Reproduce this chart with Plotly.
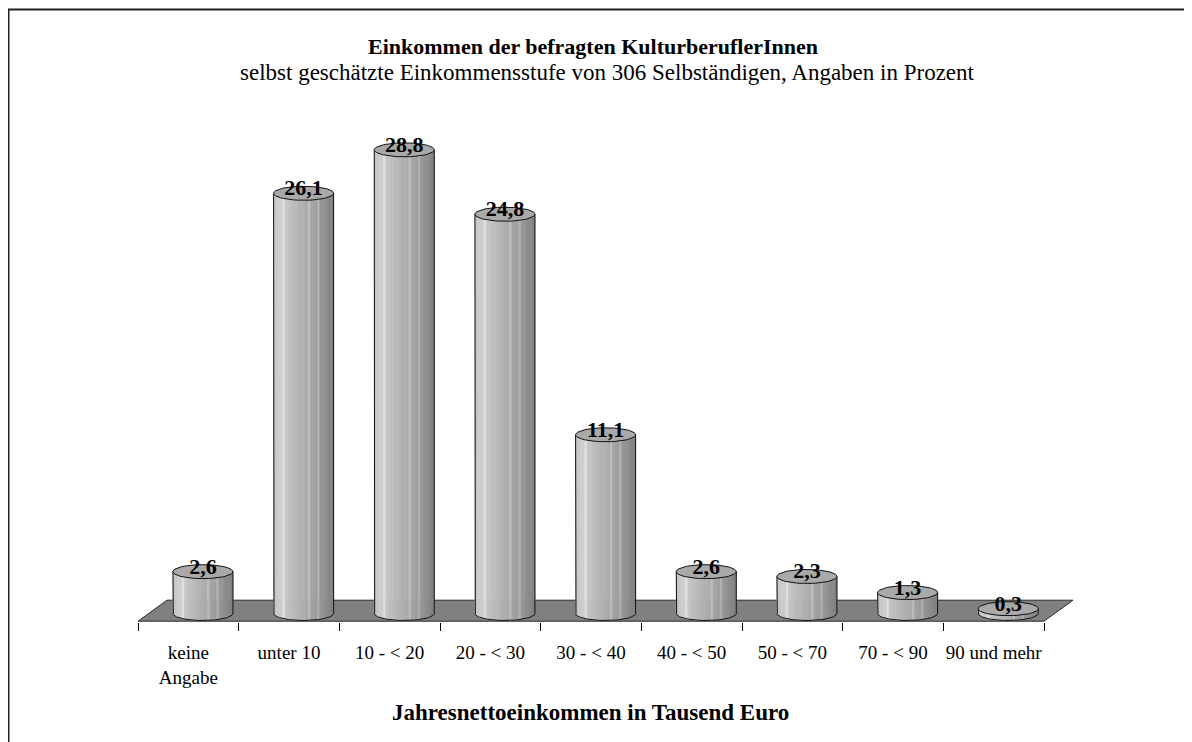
import numpy as np
import plotly.graph_objects as go

# ---------------- data ----------------
categories = ["keine<br>Angabe", "unter 10", "10 - < 20", "20 - < 30", "30 - < 40",
              "40 - < 50", "50 - < 70", "70 - < 90", "90 und mehr"]
values = [2.6, 26.1, 28.8, 24.8, 11.1, 2.6, 2.3, 1.3, 0.3]
value_labels = [f"{v:.1f}".replace(".", ",") for v in values]

title_text = "Einkommen der befragten KulturberuflerInnen"
subtitle_text = "selbst geschätzte Einkommensstufe von 306 Selbständigen, Angaben in Prozent"
xaxis_title = "Jahresnettoeinkommen in Tausend Euro"

# ---------------- layout geometry (page pixels, figure sits at an 8px page offset) ----------------
OFF = 8
W, H = 1192, 742
PLOT_LEFT, PLOT_RIGHT, PLOT_TOP, PLOT_BOTTOM = 137 - OFF, 1074 - OFF, 110 - OFF, 622 - OFF
L_PX, R_PX, T_PX, B_PX = PLOT_LEFT, W - PLOT_RIGHT, PLOT_TOP, H - PLOT_BOTTOM
plot_w = PLOT_RIGHT - PLOT_LEFT
plot_h = PLOT_BOTTOM - PLOT_TOP
PXY = 16.1                  # pixels per y unit
ZERO_PX = 613.5 - OFF       # pixel row of y=0 (cylinder base ellipse centre)
y_lo = -(PLOT_BOTTOM - ZERO_PX) / PXY
y_hi = (ZERO_PX - PLOT_TOP) / PXY

n = len(values)
depth_x = 0.288
x_lo, x_hi = -0.51, n - 0.5 + depth_x + 0.01
PXX = plot_w / (x_hi - x_lo)

depth_y = 21 / PXY
floor_front = -(PLOT_BOTTOM - 0.8 - ZERO_PX) / PXY
floor_back = floor_front + depth_y

cyl_off = 0.145
rx = 30 / PXX
ry = 7 / PXY

FONT = "Liberation Serif, Times New Roman, serif"

def px2paper_x(px):
    return (px - OFF - PLOT_LEFT) / plot_w

def px2paper_y(py):
    return (PLOT_BOTTOM - (py - OFF)) / plot_h

fig = go.Figure()

# floor
fx = [-0.5, n - 0.5, n - 0.5 + depth_x, -0.5 + depth_x, -0.5]
fy = [floor_front, floor_front, floor_back, floor_back, floor_front]
fig.add_trace(go.Scatter(x=fx, y=fy, mode="lines", fill="toself",
                         fillcolor="#808080", line=dict(color="#2a2a2a", width=1),
                         hoverinfo="skip", showlegend=False))

# cylinder bodies as vertical stripes for shading
NS = 26
edges = np.linspace(-rx, rx, NS + 1)
shade_t = [0.0, 0.12, 0.3, 0.55, 0.8, 1.0]
shade_v = [195, 208, 190, 172, 150, 128]

def ell_low(dx):
    return -ry * np.sqrt(max(0.0, 1 - (dx / rx) ** 2))

for j in range(NS):
    xa, xb = edges[j], edges[j + 1]
    tm = (j + 0.5) / NS
    g = int(np.interp(tm, shade_t, shade_v))
    if j in (4, 15, 19):
        g = min(g + 22, 225)
    col = f"rgb({g},{g},{g})"
    xs, ys = [], []
    for i, v in enumerate(values):
        c = i + cyl_off
        xs += [c + xa, c + xb, c + xb, c + xa, c + xa, None]
        ys += [v, v, ell_low(xb), ell_low(xa), v, None]
    fig.add_trace(go.Scatter(x=xs, y=ys, mode="lines", fill="toself",
                             fillcolor=col, line=dict(color=col, width=0.6),
                             hoverinfo="skip", showlegend=False))

# body outlines
theta = np.linspace(np.pi, 2 * np.pi, 40)
ox, oy = [], []
for i, v in enumerate(values):
    c = i + cyl_off
    ox += [c - rx]
    oy += [v]
    ox += list(c + rx * np.cos(theta))
    oy += list(ry * np.sin(theta))
    ox += [c + rx, None]
    oy += [v, None]
fig.add_trace(go.Scatter(x=ox, y=oy, mode="lines", line=dict(color="#111111", width=1),
                         hoverinfo="skip", showlegend=False))

# top ellipses
phi = np.linspace(0, 2 * np.pi, 60)
tx, ty = [], []
for i, v in enumerate(values):
    c = i + cyl_off
    tx += list(c + rx * np.cos(phi)) + [None]
    ty += list(v + ry * np.sin(phi)) + [None]
fig.add_trace(go.Scatter(x=tx, y=ty, mode="lines", fill="toself", fillcolor="#a9a9a9",
                         line=dict(color="#111111", width=1),
                         hoverinfo="skip", showlegend=False))

# value labels
fig.add_trace(go.Scatter(x=[i + cyl_off for i in range(n)], y=[v + 0.22 for v in values],
                         mode="text", text=value_labels, textposition="middle center",
                         textfont=dict(family=FONT, size=22, color="black", weight="bold"),
                         cliponaxis=False, hoverinfo="skip", showlegend=False))

fig.update_layout(
    width=W, height=H,
    margin=dict(l=L_PX, r=R_PX, t=T_PX, b=B_PX, autoexpand=False),
    paper_bgcolor="white", plot_bgcolor="white",
    showlegend=False,
    xaxis=dict(range=[x_lo, x_hi], tickmode="array",
               tickvals=[k - 0.5 for k in range(n + 1)], ticktext=[""] * (n + 1),
               ticks="outside", ticklen=8, tickcolor="black", tickwidth=1,
               showline=False, showgrid=False, zeroline=False, showticklabels=False,
               fixedrange=True),
    xaxis2=dict(range=[x_lo, x_hi], overlaying="x", anchor="y", side="bottom",
                tickmode="array", tickvals=list(range(n)), ticktext=categories,
                ticks="outside", ticklen=13, tickcolor="rgba(0,0,0,0)",
                tickfont=dict(family=FONT, size=19, color="black"),
                showline=False, showgrid=False, zeroline=False),
    yaxis=dict(range=[y_lo, y_hi], visible=False, fixedrange=True),
    annotations=[
        dict(text=f"<b>{title_text}</b>", x=px2paper_x(593), y=px2paper_y(46),
             xref="paper", yref="paper", xanchor="center", yanchor="middle",
             showarrow=False, font=dict(family=FONT, size=22, color="black")),
        dict(text=subtitle_text, x=px2paper_x(607), y=px2paper_y(72),
             xref="paper", yref="paper", xanchor="center", yanchor="middle",
             showarrow=False, font=dict(family=FONT, size=23, color="black")),
        dict(text=f"<b>{xaxis_title}</b>", x=px2paper_x(590), y=px2paper_y(712),
             xref="paper", yref="paper", xanchor="center", yanchor="middle",
             showarrow=False, font=dict(family=FONT, size=23, color="black")),
    ],
    shapes=[dict(type="rect", xref="paper", yref="paper",
                 x0=px2paper_x(8.5), x1=px2paper_x(1260),
                 y0=px2paper_y(820), y1=px2paper_y(9.5),
                 line=dict(color="#222222", width=2), fillcolor="rgba(0,0,0,0)")],
)

# invisible trace on xaxis2 so the label axis is drawn
fig.add_trace(go.Scatter(x=[0], y=[0], xaxis="x2", mode="markers",
                         marker=dict(opacity=0), hoverinfo="skip", showlegend=False))

fig.write_html("out.html")
